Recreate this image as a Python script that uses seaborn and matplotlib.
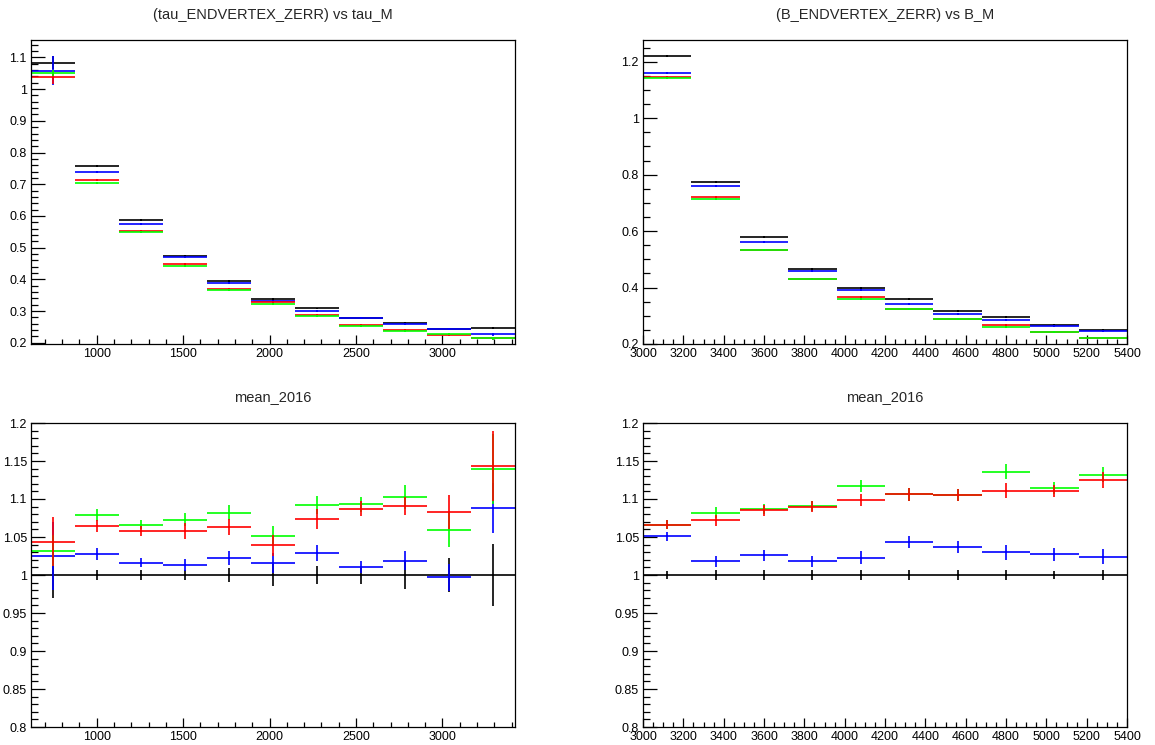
import numpy as np
import pandas as pd
import matplotlib
matplotlib.use("Agg")
import matplotlib.pyplot as plt
from matplotlib.ticker import MultipleLocator
import seaborn as sns

# bin centres (half widths below)
tau_m = [747, 1001, 1256, 1510, 1765, 2019, 2274, 2528, 2783, 3037, 3292]
tau_hw = 127
b_m = [3120, 3360, 3600, 3840, 4080, 4320, 4560, 4800, 5040, 5280]
b_hw = 120

# top left: tau_ENDVERTEX_ZERR vs tau_M
tau_black = [1.083, 0.758, 0.587, 0.473, 0.395, 0.338, 0.308, 0.279, 0.262, 0.244, 0.246]
tau_blue = [1.058, 0.738, 0.576, 0.469, 0.387, 0.333, 0.299, 0.279, 0.258, 0.242, 0.226]
tau_red = [1.037, 0.712, 0.553, 0.448, 0.371, 0.327, 0.286, 0.256, 0.240, 0.224, 0.214]
tau_green = [1.050, 0.703, 0.549, 0.441, 0.365, 0.322, 0.283, 0.254, 0.237, 0.228, 0.214]
tau_black_err = [0.020, 0.003, 0.003, 0.003, 0.003, 0.003, 0.003, 0.003, 0.003, 0.003, 0.004]
tau_blue_err = [0.045, 0.003, 0.003, 0.003, 0.003, 0.003, 0.003, 0.003, 0.003, 0.003, 0.004]
tau_red_err = [0.020, 0.003, 0.003, 0.003, 0.003, 0.003, 0.003, 0.003, 0.003, 0.003, 0.004]
tau_green_err = [0.010, 0.003, 0.003, 0.003, 0.003, 0.003, 0.003, 0.003, 0.003, 0.003, 0.004]

# top right: B_ENDVERTEX_ZERR vs B_M
b_black = [1.220, 0.773, 0.579, 0.466, 0.400, 0.358, 0.318, 0.294, 0.268, 0.250]
b_blue = [1.161, 0.760, 0.563, 0.459, 0.391, 0.343, 0.307, 0.286, 0.263, 0.245]
b_red = [1.147, 0.721, 0.534, 0.431, 0.365, 0.324, 0.288, 0.266, 0.242, 0.223]
b_green = [1.143, 0.715, 0.534, 0.429, 0.359, 0.324, 0.288, 0.260, 0.242, 0.223]
b_err = [0.004, 0.003, 0.003, 0.003, 0.003, 0.003, 0.003, 0.003, 0.003, 0.003]

# bottom left: mean_2016 ratio, tau_M bins
rt_black = [1.0, 1.0, 1.0, 1.0, 1.0, 1.0, 1.0, 1.0, 1.0, 1.0, 1.0]
rt_blue = [1.025, 1.028, 1.016, 1.013, 1.022, 1.016, 1.029, 1.011, 1.019, 0.997, 1.088]
rt_red = [1.044, 1.064, 1.058, 1.058, 1.063, 1.039, 1.074, 1.087, 1.091, 1.083, 1.143]
rt_green = [1.032, 1.079, 1.066, 1.073, 1.082, 1.051, 1.092, 1.093, 1.103, 1.059, 1.139]
rt_black_err = [0.030, 0.007, 0.006, 0.007, 0.009, 0.014, 0.012, 0.012, 0.018, 0.022, 0.041]
rt_blue_err = [0.045, 0.008, 0.006, 0.008, 0.009, 0.013, 0.010, 0.008, 0.012, 0.018, 0.033]
rt_red_err = [0.032, 0.008, 0.007, 0.010, 0.011, 0.014, 0.013, 0.010, 0.012, 0.022, 0.046]
rt_green_err = [0.020, 0.008, 0.006, 0.009, 0.010, 0.013, 0.012, 0.010, 0.016, 0.022, 0.046]

# bottom right: mean_2016 ratio, B_M bins
rb_black = [1.0, 1.0, 1.0, 1.0, 1.0, 1.0, 1.0, 1.0, 1.0, 1.0]
rb_blue = [1.051, 1.018, 1.026, 1.018, 1.023, 1.043, 1.037, 1.030, 1.027, 1.024]
rb_red = [1.066, 1.072, 1.085, 1.090, 1.099, 1.106, 1.105, 1.111, 1.110, 1.125]
rb_green = [1.066, 1.082, 1.087, 1.091, 1.117, 1.106, 1.105, 1.136, 1.114, 1.132]
rb_black_err = [0.005, 0.006, 0.006, 0.006, 0.006, 0.006, 0.006, 0.006, 0.005, 0.006]
rb_err = [0.006, 0.007, 0.007, 0.007, 0.008, 0.008, 0.008, 0.010, 0.008, 0.010]

colors = {"black": "#000000", "blue": "#0000ff", "red": "#ff0000", "green": "#00ff00"}

sns.set_style("white")
plt.rcParams["font.family"] = ["Liberation Sans", "DejaVu Sans"]

W, H = 1155, 745
fig = plt.figure(figsize=(W / 100, H / 100), dpi=100)


def make_ax(left, top, right, bottom):
    return fig.add_axes([left / W, 1 - bottom / H, (right - left) / W, (bottom - top) / H])


def style_ax(ax, xmaj, xmin, ymaj, ymin):
    ax.xaxis.set_major_locator(MultipleLocator(xmaj))
    ax.xaxis.set_minor_locator(MultipleLocator(xmin))
    ax.yaxis.set_major_locator(MultipleLocator(ymaj))
    ax.yaxis.set_minor_locator(MultipleLocator(ymin))
    ax.tick_params(axis="both", which="both", direction="in", colors="black",
                   bottom=True, left=True, top=False, right=False,
                   labelsize=9, width=0.9)
    ax.tick_params(axis="y", which="major", length=10, pad=3)
    ax.tick_params(axis="y", which="minor", length=5)
    ax.tick_params(axis="x", which="major", length=6.5, pad=3)
    ax.tick_params(axis="x", which="minor", length=3.3)
    for sp in ax.spines.values():
        sp.set_visible(True)
        sp.set_color("black")
        sp.set_linewidth(0.9)
    ax.yaxis.set_major_formatter(plt.FuncFormatter(lambda v, p: f"{v:g}"))
    ax.grid(False)


def draw_series(ax, x, hw, series):
    rows = []
    for name, vals, errs in series:
        ax.errorbar(x, vals, xerr=hw, yerr=errs, fmt="none", ecolor=colors[name],
                    elinewidth=1.2, capsize=0)
        rows += [{"x": xi, "y": yi, "s": name} for xi, yi in zip(x, vals)]
    df = pd.DataFrame(rows)
    sns.scatterplot(data=df, x="x", y="y", hue="s", palette=colors, marker="s",
                    s=2, linewidth=0, legend=False, ax=ax)
    ax.set_xlabel("")
    ax.set_ylabel("")


ax1 = make_ax(31, 40, 515, 344)
draw_series(ax1, tau_m, tau_hw, [("black", tau_black, tau_black_err),
                                 ("blue", tau_blue, tau_blue_err),
                                 ("red", tau_red, tau_red_err),
                                 ("green", tau_green, tau_green_err)])
ax1.set_xlim(620, 3420)
ax1.set_ylim(0.196, 1.155)
style_ax(ax1, 500, 100, 0.1, 0.02)

ax2 = make_ax(643, 40, 1127, 344)
draw_series(ax2, b_m, b_hw, [("black", b_black, b_err),
                             ("blue", b_blue, b_err),
                             ("red", b_red, b_err),
                             ("green", b_green, b_err)])
ax2.set_xlim(3000, 5400)
ax2.set_ylim(0.2, 1.277)
style_ax(ax2, 200, 50, 0.2, 0.05)

ax3 = make_ax(31, 423, 515, 727)
draw_series(ax3, tau_m, tau_hw, [("black", rt_black, rt_black_err),
                                 ("blue", rt_blue, rt_blue_err),
                                 ("green", rt_green, rt_green_err),
                                 ("red", rt_red, rt_red_err)])
ax3.set_xlim(620, 3420)
ax3.set_ylim(0.8, 1.2)
style_ax(ax3, 500, 100, 0.05, 0.01)

ax4 = make_ax(643, 423, 1127, 727)
draw_series(ax4, b_m, b_hw, [("black", rb_black, rb_black_err),
                             ("blue", rb_blue, rb_err),
                             ("green", rb_green, rb_err),
                             ("red", rb_red, rb_err)])
ax4.set_xlim(3000, 5400)
ax4.set_ylim(0.8, 1.2)
style_ax(ax4, 200, 50, 0.05, 0.01)

fig.text(273 / W, 1 - 15 / H, "(tau_ENDVERTEX_ZERR) vs tau_M", ha="center", va="center", fontsize=10.5)
fig.text(885 / W, 1 - 15 / H, "(B_ENDVERTEX_ZERR) vs B_M", ha="center", va="center", fontsize=10.5)
fig.text(273 / W, 1 - 397 / H, "mean_2016", ha="center", va="center", fontsize=10.5)
fig.text(885 / W, 1 - 397 / H, "mean_2016", ha="center", va="center", fontsize=10.5)

fig.savefig("out.png", dpi=100, facecolor="white")
